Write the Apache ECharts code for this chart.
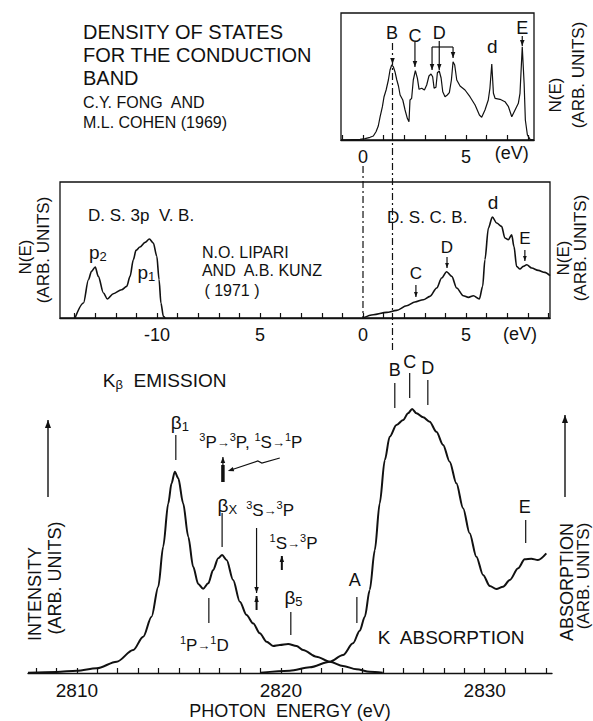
<!DOCTYPE html>
<html><head><meta charset="utf-8">
<script src="https://cdn.jsdelivr.net/npm/echarts@6/dist/echarts.min.js"></script>
<style>html,body{margin:0;padding:0;background:#fff}#main{width:593px;height:721px}</style>
</head><body><div id="main"></div>
<script>
const FONT = '"Liberation Sans", Arial, sans-serif';
const INK = '#111';

// ---- Top panel: density of states, conduction band (Fong & Cohen 1969)
const topE = [-1.07, -0.15, 0.10, 0.34, 0.50, 0.63, 0.74, 0.83, 0.94, 1.02, 1.12, 1.23, 1.31, 1.39, 1.47, 1.55, 1.64, 1.72, 1.80, 1.93, 2.04, 2.15, 2.23, 2.28, 2.36, 2.44, 2.54, 2.64, 2.72, 2.85, 2.98, 3.09, 3.20, 3.30, 3.38, 3.45, 3.54, 3.61, 3.70, 3.79, 3.87, 3.98, 4.09, 4.19, 4.29, 4.37, 4.45, 4.55, 4.71, 4.95, 5.19, 5.44, 5.65, 5.76, 5.92, 6.08, 6.16, 6.25, 6.33, 6.41, 6.65, 6.89, 7.06, 7.22, 7.38, 7.54, 7.62, 7.73, 7.82, 7.88, 7.98, 8.11, 8.28];
const topN = [0, 0.7, 1.3, 2.7, 4, 8.3, 14, 23.3, 33.3, 43.3, 50, 60, 70, 75, 73.3, 68.3, 60, 54, 45, 40, 30, 21.7, 18.3, 40, 41.7, 60, 69.3, 61.7, 50.7, 51.7, 50, 55, 64, 66, 63.3, 51.7, 52.7, 67.3, 69, 62, 48.3, 43.3, 45, 47.3, 60, 78.3, 75, 60, 54, 50, 43.3, 35, 25, 22.7, 30, 40, 51.7, 76, 46.7, 41.7, 40.7, 38.3, 33.3, 23.3, 30, 36.7, 46.7, 93.3, 56.7, 20, 5, 0.7, 0];
const topTicks = [-1, 0, 1, 2, 3, 4, 5, 6, 7, 8];
const topTickLabels = [0, 5];

// ---- Middle panel: Lipari & Kunz (1971)
const vbE = [-13.98, -13.57, -13.33, -13.18, -13.0, -12.85, -12.6, -12.41, -12.12, -11.72, -11.47, -11.31, -11.15, -11.02, -10.83, -10.58, -10.37, -10.18, -10.01, -9.9, -9.81, -9.69, -9.61];
const vbN = [0, 15, 38.3, 46.6, 51, 41.6, 25, 19, 24.3, 28.3, 31.6, 41.6, 58.3, 67.6, 71, 75.6, 79, 75, 61.6, 38.3, 15, 1.6, 0];
const cbE = [0, 0.5, 1.15, 1.63, 2.12, 2.52, 2.93, 3.25, 3.58, 3.82, 4.06, 4.31, 4.55, 4.87, 5.12, 5.36, 5.65, 5.81, 5.92, 6.09, 6.28, 6.49, 6.73, 6.89, 7.06, 7.22, 7.33, 7.46, 7.62, 7.78, 7.95, 8.19, 8.51, 8.83, 9.08];
const cbN = [0, 3.3, 5.6, 7.6, 12.3, 16, 18.3, 21.6, 30, 40, 46.3, 41.6, 30, 22.3, 20.6, 22.3, 19, 31.6, 58.3, 90, 101, 95, 91.6, 80, 78.3, 83.3, 71.6, 51.6, 49, 51.6, 53.3, 50, 47.6, 45.6, 42.3];
const midTicks = [-14, -13, -12, -11, -10, -9, -8, -7, -6, -5, -4, -3, -2, -1, 0, 1, 2, 3, 4, 5, 6, 7, 8, 9];
const midTickLabels = [-10, -5, 0, 5];

// ---- Bottom panel: K-beta emission and K absorption
const emE = [2807.6, 2809.0, 2810.0, 2810.97, 2811.95, 2812.76, 2813.25, 2813.66, 2813.99, 2814.23, 2814.48, 2814.64, 2814.80, 2814.97, 2815.21, 2815.46, 2815.70, 2815.95, 2816.19, 2816.44, 2816.68, 2816.93, 2817.12, 2817.34, 2817.66, 2817.99, 2818.32, 2818.64, 2818.97, 2819.30, 2819.62, 2819.95, 2820.36, 2820.77, 2821.09, 2821.75, 2822.40, 2823.05, 2823.71, 2824.36, 2825.0];
const emI = [0.3, 1, 2.3, 4.7, 11.3, 23, 36.3, 56.3, 86.3, 126.3, 169.7, 189.7, 201.3, 194.7, 169.7, 136.3, 106.3, 89, 84.3, 89.7, 103, 114.7, 118, 113, 93, 71.3, 58, 49.7, 39.7, 31.3, 27, 28, 29, 27, 23, 16.3, 11.3, 7, 3.7, 1.3, 0.3];
const abE = [2819.0, 2820.44, 2821.42, 2822.40, 2823.05, 2823.54, 2823.87, 2824.12, 2824.36, 2824.61, 2824.85, 2825.10, 2825.34, 2825.67, 2826.0, 2826.24, 2826.44, 2826.65, 2826.98, 2827.30, 2827.63, 2827.96, 2828.28, 2828.61, 2828.94, 2829.26, 2829.59, 2829.92, 2830.25, 2830.57, 2830.90, 2831.23, 2831.64, 2831.96, 2832.29, 2832.61, 2833.02];
const abI = [0.3, 2.3, 5.7, 11.3, 18, 29.7, 42.3, 56.3, 83, 123, 169.7, 213, 236.3, 248, 253, 259.7, 264, 259.7, 255.7, 251.3, 241.3, 228, 211.3, 189.7, 164.7, 139.7, 116.3, 98, 87, 84, 86.3, 93, 104.7, 113.7, 114.3, 113, 119.7];
const botTicks = [2808, 2809, 2810, 2811, 2812, 2813, 2814, 2815, 2816, 2817, 2818, 2819, 2820, 2821, 2822, 2823, 2824, 2825, 2826, 2827, 2828, 2829, 2830, 2831, 2832, 2833];
const botTickLabels = [2810, 2820, 2830];

const zip = (a, b) => a.map((v, i) => [v, b[i]]);
const chart = echarts.init(document.getElementById('main'), null, { renderer: 'svg' });

const tickStyle = { show: true, inside: true, length: 5, lineStyle: { color: INK, width: 1.2 } };
const lineAx = { show: true, onZero: false, lineStyle: { color: INK, width: 1.4 } };

chart.setOption({
  animation: false,
  backgroundColor: '#fff',
  grid: [
    { left: 341, top: 13, width: 193, height: 127, show: true, borderColor: INK, borderWidth: 1.3, backgroundColor: 'transparent' },
    { left: 60, top: 182, width: 490, height: 136, show: true, borderColor: INK, borderWidth: 1.3, backgroundColor: 'transparent' },
    { left: 28, top: 380, width: 524, height: 293, show: false }
  ],
  xAxis: [
    { type: 'value', gridIndex: 0, min: -1.07, max: 8.3, axisLine: lineAx, splitLine: { show: false },
      axisTick: Object.assign({ customValues: topTicks }, tickStyle),
      axisLabel: { customValues: topTickLabels, color: INK, fontSize: 18, fontFamily: FONT, margin: 8 } },
    { type: 'value', gridIndex: 1, min: -14.71, max: 9.08, axisLine: lineAx, splitLine: { show: false },
      axisTick: Object.assign({ customValues: midTicks }, tickStyle),
      axisLabel: { customValues: midTickLabels, color: INK, fontSize: 18, fontFamily: FONT, margin: 8,
        formatter: v => (v === -5 ? '5' : String(v)) } },
    { type: 'value', gridIndex: 2, min: 2807.6, max: 2833.3, axisLine: lineAx, splitLine: { show: false },
      axisTick: Object.assign({ customValues: botTicks }, tickStyle),
      axisLabel: { customValues: botTickLabels, color: INK, fontSize: 19, fontFamily: FONT, margin: 8,
        formatter: v => String(v) },
      name: 'PHOTON  ENERGY (eV)', nameLocation: 'middle', nameGap: 29,
      nameTextStyle: { color: INK, fontSize: 18, fontFamily: FONT } }
  ],
  yAxis: [
    { type: 'value', gridIndex: 0, min: 0, max: 127, show: false },
    { type: 'value', gridIndex: 1, min: 0, max: 136, show: false },
    { type: 'value', gridIndex: 2, min: 0, max: 293, show: false }
  ],
  series: [
    { type: 'line', xAxisIndex: 0, yAxisIndex: 0, data: zip(topE, topN), showSymbol: false, lineStyle: { color: INK, width: 1.2 } },
    { type: 'line', xAxisIndex: 1, yAxisIndex: 1, data: zip(vbE, vbN), showSymbol: false, smooth: 0.3, smoothMonotone: 'x', lineStyle: { color: INK, width: 1.6 } },
    { type: 'line', xAxisIndex: 1, yAxisIndex: 1, data: zip(cbE, cbN), showSymbol: false, smooth: 0.3, smoothMonotone: 'x', lineStyle: { color: INK, width: 1.6 } },
    { type: 'line', xAxisIndex: 2, yAxisIndex: 2, data: zip(emE, emI), showSymbol: false, smooth: 0.3, smoothMonotone: 'x', lineStyle: { color: INK, width: 2 } },
    { type: 'line', xAxisIndex: 2, yAxisIndex: 2, data: zip(abE, abI), showSymbol: false, smooth: 0.3, smoothMonotone: 'x', lineStyle: { color: INK, width: 2 } }
  ]
});

// ---------- annotations (placed in data coordinates through the grids)
const G = [];
const P = (g, x, y) => chart.convertToPixel({ gridIndex: g }, [x, y]);
const rich = {
  n: { fontSize: 17, fontFamily: FONT, fill: INK, lineHeight: 22 },
  u: { fontSize: 11, fontFamily: FONT, fill: INK, verticalAlign: 'top' },
  a: { fontSize: 13, fontFamily: FONT, fill: INK },
  s: { fontSize: 13, fontFamily: FONT, fill: INK, verticalAlign: 'bottom' },
  b: { fontSize: 19, fontFamily: FONT, fill: INK, lineHeight: 22 }
};
function txt(p, s, o = {}) {
  G.push({ type: 'text', x: p[0], y: p[1], rotation: o.rot || 0, z: 10,
    style: { text: s, fontSize: o.size || 17, fontFamily: FONT, fill: INK,
      align: o.align || 'center', verticalAlign: 'middle', rich: o.rich } });
}
function seg(pts, o = {}) {
  G.push({ type: 'polyline', z: 10, shape: { points: pts },
    style: { stroke: INK, lineWidth: o.w || 1.2, lineDash: o.dash || null, fill: null } });
}
function head(tip, from, size) {
  size = size || 6;
  const dx = tip[0] - from[0], dy = tip[1] - from[1], L = Math.hypot(dx, dy);
  const ux = dx / L, uy = dy / L, bx = tip[0] - ux * size, by = tip[1] - uy * size, w = size * 0.38;
  G.push({ type: 'polygon', z: 10, shape: { points: [tip, [bx - uy * w, by + ux * w], [bx + uy * w, by - ux * w]] }, style: { fill: INK } });
}
function arrow(a, b, o = {}) { seg([a, b], o); head(b, a, o.hs); }

// Title block (layout)
[['DENSITY OF STATES', 32], ['FOR THE CONDUCTION', 55], ['BAND', 78]].forEach(([t, y]) => txt([83, y], t, { align: 'left', size: 20 }));
[['C.Y. FONG  AND', 102], ['M.L. COHEN (1969)', 122]].forEach(([t, y]) => txt([83, y], t, { align: 'left', size: 16 }));

// Top panel labels
txt(P(0, 1.40, 107), 'B', { size: 18 });
txt(P(0, 2.52, 104), 'C', { size: 18 });
txt(P(0, 3.70, 107), 'D', { size: 18 });
txt(P(0, 6.27, 94), 'd', { size: 19 });
txt(P(0, 7.73, 112), 'E', { size: 18 });
txt(P(0, 7.22, -13), '(eV)', { size: 18 });
// long dash-dot line through B
seg([P(0, 1.43, 97), P(0, 1.43, -213)], { dash: [7, 3, 2, 3], w: 1.2 });
head(P(0, 1.43, 76), P(0, 1.43, 90), 6);
// dash-dot line at 0 eV
seg([P(0, 0, -26), P(1, 0, 0)], { dash: [7, 3, 2, 3], w: 1.2 });
arrow(P(0, 2.52, 98), P(0, 2.52, 73));
seg([P(0, 3.70, 99), P(0, 3.70, 93)]);
seg([P(0, 3.35, 93), P(0, 4.37, 93)]);
arrow(P(0, 3.35, 93), P(0, 3.35, 70));
arrow(P(0, 3.70, 93), P(0, 3.70, 70));
arrow(P(0, 4.37, 93), P(0, 4.37, 82));
arrow(P(0, 7.73, 104), P(0, 7.73, 94));

// Middle panel labels
txt(P(1, -13.35, 103), 'D. S. 3p  V. B.', { align: 'left', size: 17 });
txt(P(1, -13.3, 66), '{b|p}{s|2}', { align: 'left', rich });
txt(P(1, -10.95, 46), '{b|p}{s|1}', { align: 'left', rich });
txt(P(1, -7.82, 66), 'N.O. LIPARI', { align: 'left', size: 16 });
txt(P(1, -7.82, 48), 'AND  A.B. KUNZ', { align: 'left', size: 16 });
txt(P(1, -7.70, 28), '( 1971 )', { align: 'left', size: 16 });
txt(P(1, 1.17, 101), 'D. S. C. B.', { align: 'left', size: 17 });
txt(P(1, 2.57, 45), 'C', { size: 17 });
arrow(P(1, 2.57, 33), P(1, 2.57, 21), { hs: 5 });
txt(P(1, 4.08, 71), 'D', { size: 17 });
arrow(P(1, 4.08, 61), P(1, 4.08, 50), { hs: 5 });
txt(P(1, 6.31, 116), 'd', { size: 19 });
txt(P(1, 7.86, 80), 'E', { size: 17 });
arrow(P(1, 7.86, 68), P(1, 7.86, 57), { hs: 5 });
txt(P(1, 7.62, -16), '(eV)', { size: 18 });

// Side labels (layout)
const R = Math.PI / 2;
txt([555, 95], 'N(E)', { rot: R, size: 17 });
txt([578, 75], '(ARB. UNITS)', { rot: R, size: 17 });
txt([25, 257], 'N(E)', { rot: R, size: 17 });
txt([43, 250], '(ARB. UNITS)', { rot: R, size: 17 });
txt([563, 258], 'N(E)', { rot: R, size: 17 });
txt([580, 248], '(ARB. UNITS)', { rot: R, size: 17 });
txt([35, 594], 'INTENSITY', { rot: R, size: 18 });
txt([55, 578], '(ARB. UNITS)', { rot: R, size: 18 });
arrow([48, 497], [48, 420], { w: 1.4, hs: 8 });
txt([567, 582], 'ABSORPTION', { rot: R, size: 18 });
txt([583, 576], '(ARB. UNITS)', { rot: R, size: 17 });
arrow([565, 497], [565, 415], { w: 1.4, hs: 8 });

// Bottom panel labels
txt(P(2, 2811.27, 293), '{n|K}{s|β}{n|  EMISSION}', { align: 'left', rich: Object.assign({}, rich, { n: { fontSize: 19, fontFamily: FONT, fill: INK, lineHeight: 22 } }) });
txt(P(2, 2815.05, 251), '{b|β}{s|1}', { rich });
seg([P(2, 2814.85, 238), P(2, 2814.85, 213)]);
txt(P(2, 2816.0, 231), '{u|3}{n|P}{a|→}{u|3}{n|P, }{u|1}{n|S}{a|→}{u|1}{n|P}', { align: 'left', rich });
seg([P(2, 2819.95, 215), P(2, 2819.07, 210), P(2, 2818.87, 212), P(2, 2817.55, 203)]);
head(P(2, 2817.40, 202), P(2, 2818.87, 212), 6);
seg([P(2, 2817.16, 191), P(2, 2817.16, 208)], { w: 3.5 });
arrow(P(2, 2817.16, 206), P(2, 2817.16, 216), { w: 1.2, hs: 6 });
txt(P(2, 2817.38, 168), '{b|β}{s|X}', { rich });
seg([P(2, 2817.12, 160), P(2, 2817.12, 126)]);
txt(P(2, 2818.3, 163), '{u|3}{n|S}{a|→}{u|3}{n|P}', { align: 'left', rich });
arrow(P(2, 2818.81, 145), P(2, 2818.81, 80), { hs: 6 });
arrow(P(2, 2818.81, 63), P(2, 2818.81, 77), { w: 2, hs: 6 });
txt(P(2, 2819.45, 130), '{u|1}{n|S}{a|→}{u|3}{n|P}', { align: 'left', rich });
arrow(P(2, 2820.05, 103), P(2, 2820.05, 117), { w: 2, hs: 6 });
txt(P(2, 2820.62, 76), '{b|β}{s|5}', { rich });
seg([P(2, 2820.49, 61), P(2, 2820.49, 38)]);
txt(P(2, 2815.05, 28), '{u|1}{n|P}{a|→}{u|1}{n|D}', { align: 'left', rich });
seg([P(2, 2816.47, 75), P(2, 2816.47, 50)]);
txt(P(2, 2823.63, 93), 'A', { size: 18 });
seg([P(2, 2823.73, 76), P(2, 2823.73, 50)]);
txt(P(2, 2825.59, 303), 'B', { size: 18 });
seg([P(2, 2825.59, 290), P(2, 2825.59, 265)]);
txt(P(2, 2826.32, 311), 'C', { size: 18 });
seg([P(2, 2826.32, 300), P(2, 2826.32, 275)]);
txt(P(2, 2827.21, 305), 'D', { size: 18 });
seg([P(2, 2827.21, 293), P(2, 2827.21, 268)]);
txt(P(2, 2831.96, 166), 'E', { size: 18 });
seg([P(2, 2832.01, 153), P(2, 2832.01, 130)]);
txt(P(2, 2824.75, 36), 'K  ABSORPTION', { align: 'left', size: 19 });

chart.setOption({ graphic: { elements: G } });
</script>
</body></html>
